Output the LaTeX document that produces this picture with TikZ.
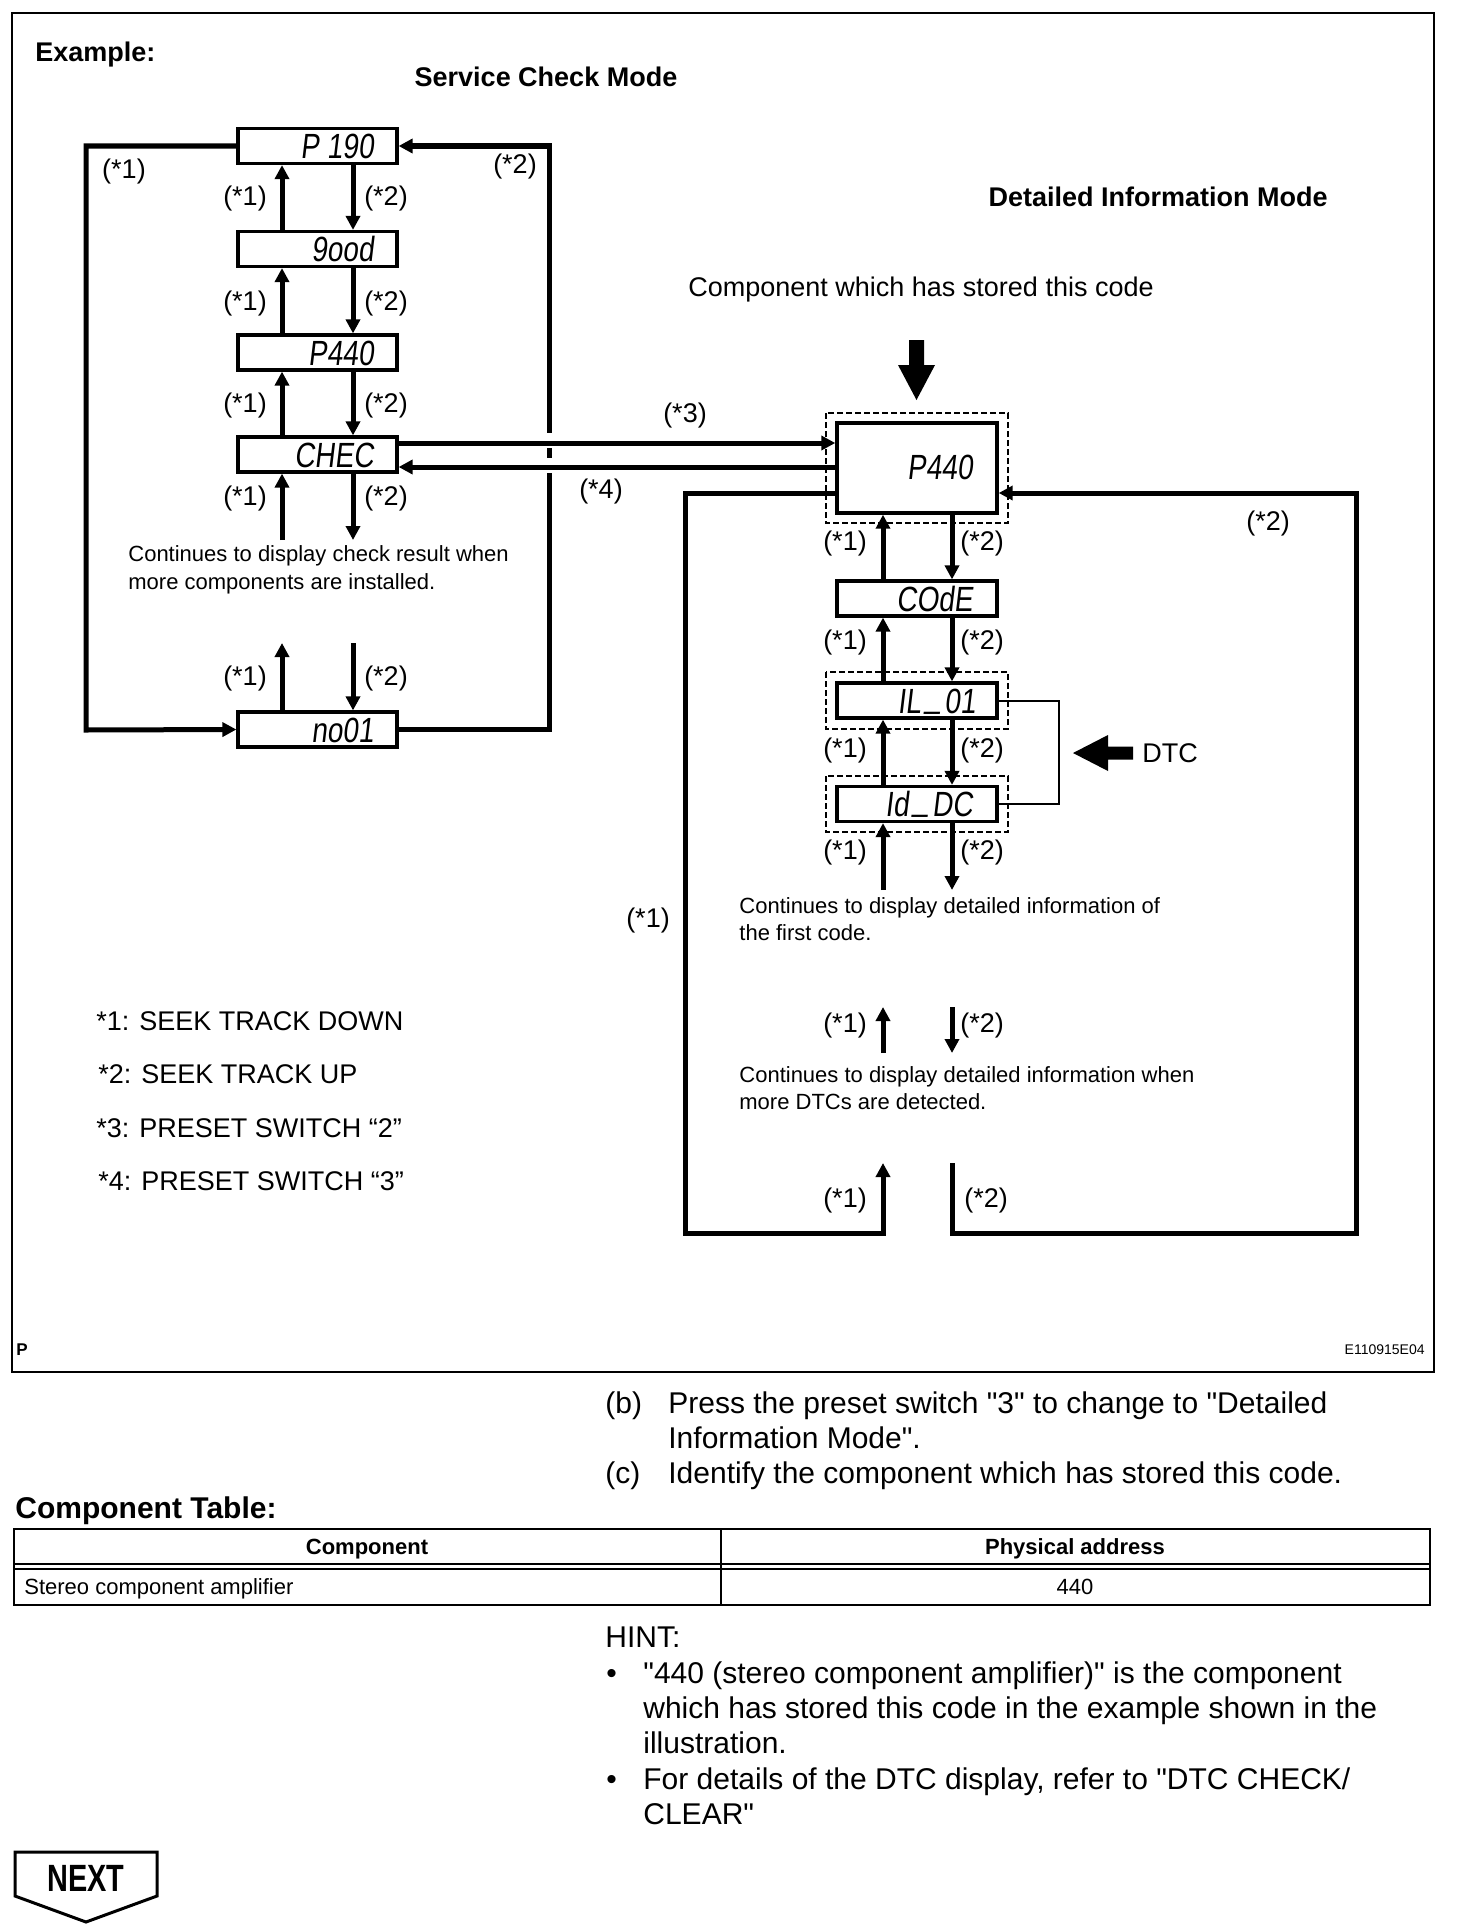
\documentclass[tikz,border=0pt]{standalone}
\usepackage{fontspec}
\setmainfont{Liberation Sans}
\newfontfamily\qfont{Liberation Sans}
\newfontfamily\lcdfont[FakeSlant=0.12,FakeStretch=0.8]{Liberation Sans}
\newfontfamily\narrowfont[FakeStretch=0.76]{Liberation Sans}
\usetikzlibrary{arrows.meta}
\newcommand{\lcdus}{\kern2pt\raisebox{2.8pt}{\_}\kern2pt}
\begin{document}
\begin{tikzpicture}[x=0.5pt,y=-0.5pt,line join=miter,
 conn/.style={line width=2.5pt},
 arr/.style={line width=2.5pt,-{Triangle[length=7pt,width=7pt]}},
 lcdbox/.style={draw,line width=1.6pt,minimum width=79.5pt,minimum height=17.5pt,inner sep=0pt},
 bigbox/.style={draw,line width=1.7pt,minimum width=80pt,minimum height=45pt,inner sep=0pt},
 dashbox/.style={draw,line width=0.6pt,dash pattern=on 3pt off 1.5pt},
 lcdtxt/.style={font=\lcdfont\fontsize{17.5}{18}\selectfont,inner sep=0pt,anchor=east,text height=12.5pt,text depth=0pt},
 lab/.style={font=\fontsize{13.5}{16}\selectfont,inner sep=0pt,text height=9.9pt,text depth=2.8pt},
 head/.style={font=\bfseries\fontsize{13.5}{16}\selectfont,inner sep=0pt},
 txt/.style={font=\fontsize{13.5}{16}\selectfont,inner sep=0pt},
 note/.style={font=\fontsize{11}{13}\selectfont,inner sep=0pt,anchor=base west},
 body/.style={font=\qfont\fontsize{15}{18}\selectfont,inner sep=0pt,anchor=base west},
]
\useasboundingbox (0,0) rectangle (1456,1932);
\draw[line width=1.1pt] (12,13) rectangle (1434,1372);

% headings
\node[head,anchor=base west] (ex) at (35,62) {Example:};
\node[head,anchor=base] (scm) at (546,87) {Service Check Mode};
\node[head,anchor=base] (dim) at (1158,206) {Detailed Information Mode};
\node[txt,anchor=base] (comp) at (921,296) {Component which has stored this code};

% service check mode boxes
\node[lcdbox] (p190) at (317.5,146) {};
\node[lcdbox] (good) at (317.5,249) {};
\node[lcdbox] (p440s) at (317.5,352.5) {};
\node[lcdbox] (chec) at (317.5,454.5) {};
\node[lcdbox] (no01) at (317.5,729.5) {};
\node[lcdtxt] (t190) at (374,146) {P 190};
\node[lcdtxt] (tgood) at (374,249) {9ood};
\node[lcdtxt] (t440s) at (374,352.5) {P440};
\node[lcdtxt] (tchec) at (374,454.5) {CHEC};
\node[lcdtxt] (tno01) at (374,729.5) {no01};

% free ends
\coordinate (cu) at (282,540);
\coordinate (cd) at (353,540);
\coordinate (nu) at (282,643);
\coordinate (nd) at (353,643);

% service arrows
\draw[arr] (282,0 |- good.north) -- (282,0 |- p190.south);
\draw[arr] (282,0 |- p440s.north) -- (282,0 |- good.south);
\draw[arr] (282,0 |- chec.north) -- (282,0 |- p440s.south);
\draw[arr] (cu) -- (282,0 |- chec.south);
\draw[arr] (282,0 |- no01.north) -- (nu);
\draw[arr] (353,0 |- p190.south) -- (353,0 |- good.north);
\draw[arr] (353,0 |- good.south) -- (353,0 |- p440s.north);
\draw[arr] (353,0 |- p440s.south) -- (353,0 |- chec.north);
\draw[arr] (353,0 |- chec.south) -- (cd);
\draw[arr] (nd) -- (353,0 |- no01.north);

% loops
\draw[arr] (p190.west) -| (86,730) -- (no01.west);
\draw[arr] (no01.east) -| (549,146) -- (p190.east);

% detailed boxes
\node[bigbox] (big) at (917,468) {};
\node[lcdtxt] (tbig) at (973,467) {P440};
\node[lcdbox,minimum width=80pt] (code) at (917,598.5) {};
\node[lcdbox,minimum width=80pt] (il01) at (917,700.5) {};
\node[lcdbox,minimum width=80pt] (iddc) at (917,804) {};
\node[lcdtxt] (tcode) at (973,598.5) {COdE};
\node[lcdtxt] (til01) at (976,700.5) {IL\lcdus01};
\node[lcdtxt] (tiddc) at (973,804) {Id\lcdus DC};
\draw[dashbox] (826,413) rectangle (1008,523);
\draw[dashbox] (826,672) rectangle (1008,729);
\draw[dashbox] (826,776) rectangle (1008,832);

% mode change lines
\fill[white] (543,433) rectangle (555,447.5);
\fill[white] (543,458) rectangle (555,472.5);
\draw[arr] (chec.east |- 0,443) -- (big.west |- 0,443);
\draw[arr] (big.west |- 0,467) -- (chec.east |- 0,467);

% detailed free ends
\coordinate (du1) at (883,890);
\coordinate (dd1) at (952,890);
\coordinate (du2a) at (883,1053);
\coordinate (du2b) at (883,1007);
\coordinate (dd2a) at (952,1007);
\coordinate (dd2b) at (952,1053);
\coordinate (lb) at (883,1163);
\coordinate (rb) at (952,1163);

\draw[arr] (883,0 |- code.north) -- (883,0 |- big.south);
\draw[arr] (883,0 |- il01.north) -- (883,0 |- code.south);
\draw[arr] (883,0 |- iddc.north) -- (883,0 |- il01.south);
\draw[arr] (du1) -- (883,0 |- iddc.south);
\draw[arr] (du2a) -- (du2b);
\draw[arr] (952,0 |- big.south) -- (952,0 |- code.north);
\draw[arr] (952,0 |- code.south) -- (952,0 |- il01.north);
\draw[arr] (952,0 |- il01.south) -- (952,0 |- iddc.north);
\draw[arr] (952,0 |- iddc.south) -- (dd1);
\draw[arr] (dd2a) -- (dd2b);

\draw[arr] (big.west |- 0,493) -| (685,1233) -| (lb);
\draw[arr] (rb) |- (1356,1233) |- (big.east |- 0,493);

% bracket and DTC arrow
\draw[line width=1pt] (il01.east) -- (1059,0 |- il01.east) -- (1059,0 |- iddc.east) -- (iddc.east);
\fill (1073,753) -- (1108,735) -- (1108,746.5) -- (1133,746.5) -- (1133,759.5) -- (1108,759.5) -- (1108,771) -- cycle;
\node[txt,anchor=west] (dtc) at (1142,753) {DTC};

% big down arrow
\fill (909,340) -- (924,340) -- (924,365) -- (935,365) -- (916.5,400) -- (898,365) -- (909,365) -- cycle;

% labels service
\foreach \y [count=\i] in {198,303,405,498,678} {
  \node[lab] (sl\i) at (245,\y) {(*1)};
  \node[lab] (sr\i) at (386,\y) {(*2)};
}
\node[lab] (loopl) at (124,171) {(*1)};
\node[lab] (loopr) at (515,166) {(*2)};
\node[lab] (s3) at (685,415) {(*3)};
\node[lab] (s4) at (601,491) {(*4)};

% labels detailed
\foreach \y [count=\i] in {543,642,750,852,1025} {
  \node[lab] (dl\i) at (845,\y) {(*1)};
  \node[lab] (dr\i) at (982,\y) {(*2)};
}
\node[lab] (dl6) at (845,1200) {(*1)};
\node[lab] (dr6) at (986,1200) {(*2)};
\node[lab] (rloop) at (1268,523) {(*2)};
\node[lab] (lloop) at (648,920) {(*1)};

% notes
\node[note] (n1a) at (128,561) {Continues to display check result when};
\node[note] (n1b) at (128,589) {more components are installed.};
\node[note] (n2a) at (739,913) {Continues to display detailed information of};
\node[note] (n2b) at (739,940) {the first code.};
\node[note] (n3a) at (739,1082) {Continues to display detailed information when};
\node[note] (n3b) at (739,1109) {more DTCs are detected.};

% legend
\node[txt,anchor=base west] (lg1) at (96,1030) {*1: SEEK TRACK DOWN};
\node[txt,anchor=base west] (lg2) at (98,1083) {*2: SEEK TRACK UP};
\node[txt,anchor=base west] (lg3) at (96,1137) {*3: PRESET SWITCH “2”};
\node[txt,anchor=base west] (lg4) at (98,1190) {*4: PRESET SWITCH “3”};

\node[font=\bfseries\fontsize{8.5}{10}\selectfont,inner sep=0pt,anchor=base west] (pp) at (16,1355) {P};
\node[font=\fontsize{7}{8}\selectfont,inner sep=0pt,anchor=base east] (code id) at (1425,1354) {E110915E04};

% text below
\node[body] (bl) at (605,1413) {(b)};
\node[body] (bt1) at (668,1413) {Press the preset switch "3" to change to "Detailed};
\node[body] (bt2) at (668,1448) {Information Mode".};
\node[body] (cl) at (605,1483) {(c)};
\node[body] (ct) at (668,1483) {Identify the component which has stored this code.};
\node[body,font=\bfseries\fontsize{15}{18}\selectfont] (ctab) at (15,1518) {Component Table:};

% table
\draw[line width=1.1pt] (14,1529) rectangle (1430,1605);
\draw[line width=1pt] (721,1529) -- (721,1605);
\draw[line width=1pt] (14,1564) -- (1430,1564);
\draw[line width=1pt] (14,1569) -- (1430,1569);
\node[font=\bfseries\fontsize{11}{13}\selectfont,inner sep=0pt,anchor=base] (th1) at (367,1554) {Component};
\node[font=\bfseries\fontsize{11}{13}\selectfont,inner sep=0pt,anchor=base] (th2) at (1075,1554) {Physical address};
\node[note] (td1) at (24,1594) {Stereo component amplifier};
\node[font=\fontsize{11}{13}\selectfont,inner sep=0pt,anchor=base] (td2) at (1075,1594) {440};

% hint
\node[body] (hint) at (605,1647) {HINT:};
\node[body] (b1) at (606,1683) {•};
\node[body] (h1) at (643,1683) {"440 (stereo component amplifier)" is the component};
\node[body] (h2) at (643,1718) {which has stored this code in the example shown in the};
\node[body] (h3) at (643,1753) {illustration.};
\node[body] (b2) at (606,1789) {•};
\node[body] (h4) at (643,1789) {For details of the DTC display, refer to "DTC CHECK/};
\node[body] (h5) at (643,1824) {CLEAR"};

% NEXT badge
\draw[line width=1.5pt] (15,1852) -- (157,1852) -- (157,1896) -- (86,1922) -- (15,1896) -- cycle;
\node[font=\narrowfont\bfseries\fontsize{19}{20}\selectfont,inner sep=0pt,anchor=base] (next) at (86,1891) {NEXT};
\end{tikzpicture}
\end{document}
